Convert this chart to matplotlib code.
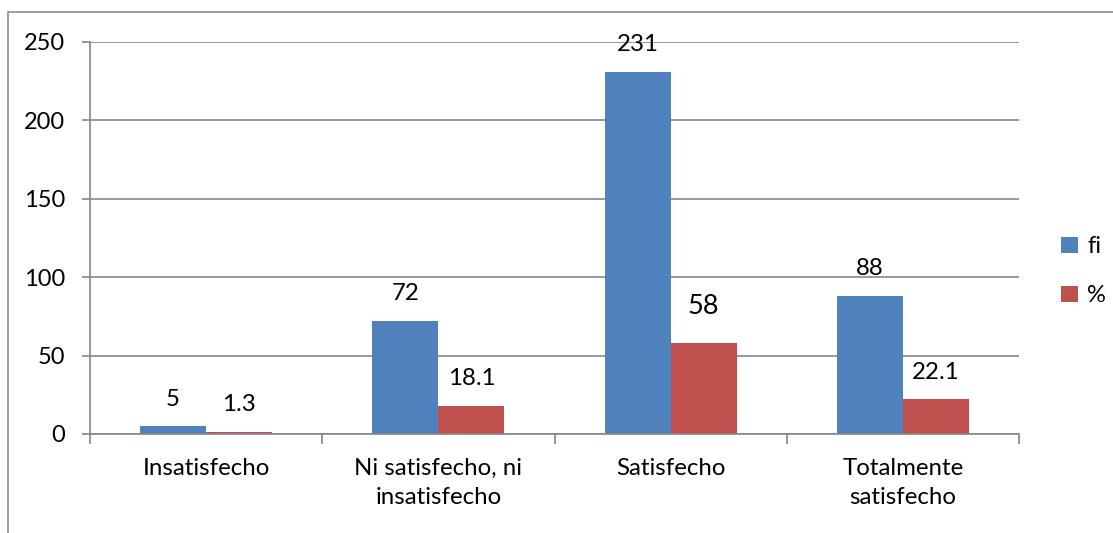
import numpy as np
import matplotlib.pyplot as plt
from matplotlib.patches import Rectangle

categorias = ["Insatisfecho", "Ni satisfecho, ni\ninsatisfecho", "Satisfecho", "Totalmente\nsatisfecho"]
fi = [5, 72, 231, 88]
pct = [1.3, 18.1, 58, 22.1]
etiquetas_fi = ["5", "72", "231", "88"]
etiquetas_pct = ["1.3", "18.1", "58", "22.1"]

plt.rcParams['font.family'] = ['Lato', 'DejaVu Sans']

W, H = 1113, 533
fig = plt.figure(figsize=(W / 100, H / 100), dpi=100)
ax = fig.add_axes([90 / W, 1 - 434 / H, (1019 - 90) / W, (434 - 41.7) / H])

# marco exterior del grafico (recortado a la derecha y abajo)
fig.patches.append(Rectangle((8 / W, -0.2), 1.5, 1.2 - 12 / H, transform=fig.transFigure,
                             fill=False, edgecolor='#8c8c8c', lw=1.2, zorder=0))

x = np.arange(len(categorias))
w = 66 / 232
b1 = ax.bar(x - w / 2, fi, w, color='#4F81BD', label='fi', zorder=3)
b2 = ax.bar(x + w / 2, pct, w, color='#C0504D', label='%', zorder=3)

for rect, txt in zip(b1, etiquetas_fi):
    ax.annotate(txt, (rect.get_x() + rect.get_width() / 2, rect.get_height()),
                xytext=(0, 19.5), textcoords='offset points', ha='center', va='center', fontsize=17.3)
for rect, txt in zip(b2, etiquetas_pct):
    fs = 19.5 if txt == "58" else 17.3
    off = 26 if txt == "58" else 19.5
    ax.annotate(txt, (rect.get_x() + rect.get_width() / 2, rect.get_height()),
                xytext=(0, off), textcoords='offset points', ha='center', va='center', fontsize=fs)

ax.set_xlim(-0.5, len(categorias) - 0.5)
ax.set_ylim(0, 250)
ax.set_yticks(range(0, 251, 50))
ax.yaxis.grid(True, color='#868686', lw=1.2, zorder=0)
ax.tick_params(axis='y', length=6, width=1.2, color='#868686', labelsize=17, pad=12)

# ticks entre categorias, etiquetas centradas
ax.set_xticks(np.arange(-0.5, len(categorias), 1))
ax.set_xticklabels([])
ax.set_xticks(x, minor=True)
ax.set_xticklabels(categorias, minor=True, fontsize=17.3, linespacing=1.5)
ax.tick_params(axis='x', which='minor', length=0, pad=17)
ax.tick_params(axis='x', which='major', length=7, width=1.2, color='#868686', direction='out')

for s in ['top', 'right']:
    ax.spines[s].set_visible(False)
for s in ['left', 'bottom']:
    ax.spines[s].set_color('#868686')
    ax.spines[s].set_linewidth(1.2)
ax.spines['bottom'].set_zorder(4)

leg = ax.legend(loc='center left', bbox_to_anchor=((1040 - 90) / (1019 - 90), 0.415),
                frameon=False, fontsize=17, handlelength=0.7, handleheight=0.7,
                handletextpad=0.4, labelspacing=1.2)

fig.savefig('out.png', dpi=100, facecolor='white')
